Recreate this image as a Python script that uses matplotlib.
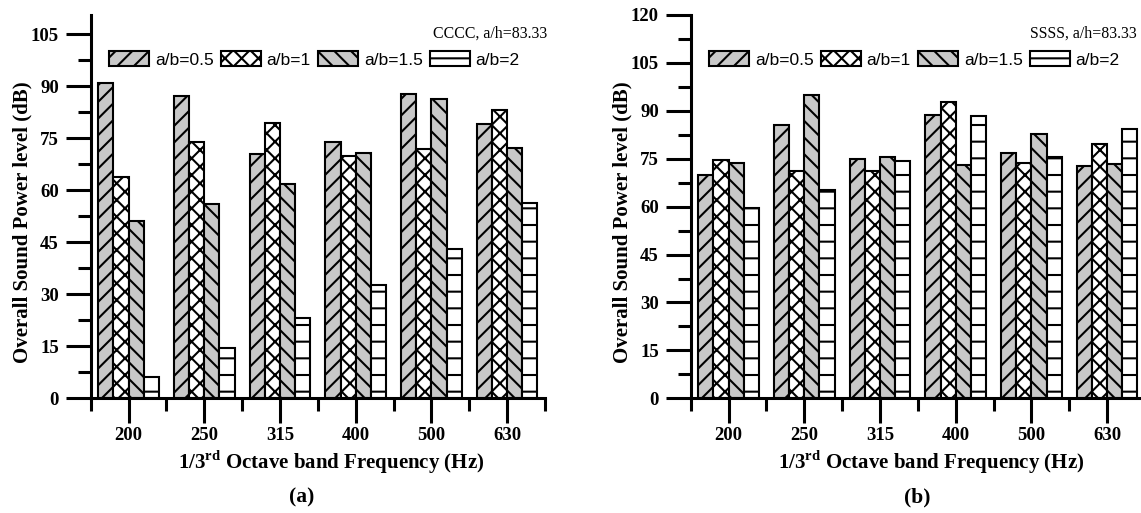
import numpy as np
import matplotlib
matplotlib.use("Agg")
import matplotlib.pyplot as plt
from matplotlib.ticker import MultipleLocator, FixedLocator

plt.rcParams["font.family"] = ["Liberation Serif", "DejaVu Serif"]
plt.rcParams["mathtext.fontset"] = "custom"
plt.rcParams["mathtext.bf"] = "Liberation Serif:bold"
plt.rcParams["mathtext.rm"] = "Liberation Serif"
plt.rcParams["hatch.linewidth"] = 1.5

# 1/3 octave band centre frequencies (Hz)
freqs = ["200", "250", "315", "400", "500", "630"]
series_labels = ["a/b=0.5", "a/b=1", "a/b=1.5", "a/b=2"]

# Overall sound power level (dB), CCCC edges, a/h = 83.33
cccc_ab05 = [91.0, 87.1, 70.5, 74.0, 87.6, 79.2]
cccc_ab1 = [63.8, 73.8, 79.4, 69.8, 71.9, 83.0]
cccc_ab15 = [51.0, 56.0, 61.7, 70.7, 86.2, 72.2]
cccc_ab2 = [6.1, 14.5, 23.2, 32.8, 42.9, 56.3]

# Overall sound power level (dB), SSSS edges, a/h = 83.33
ssss_ab05 = [69.8, 85.5, 74.8, 88.8, 76.9, 72.7]
ssss_ab1 = [74.7, 71.2, 71.2, 92.8, 73.7, 79.5]
ssss_ab15 = [73.8, 95.1, 75.4, 72.9, 82.9, 73.3]
ssss_ab2 = [59.6, 65.3, 74.2, 88.3, 75.5, 84.4]

GRAY = "#c8c8c8"
styles = [
    dict(facecolor=GRAY, hatch="//"),
    dict(facecolor="white", hatch="xx"),
    dict(facecolor=GRAY, hatch="\\\\"),
    dict(facecolor="white", hatch="-"),
]

W, H = 1141, 513
fig = plt.figure(figsize=(W / 100, H / 100), dpi=100)


def px_axes(x0, x1, y_top, y_bot):
    return fig.add_axes([x0 / W, 1 - y_bot / H, (x1 - x0) / W, (y_bot - y_top) / H])


def draw_panel(ax, data, ymax, ymajor_max, note, tag, note_x, tag_x):
    x = np.arange(1, len(freqs) + 1)
    offsets = [-0.3, -0.1, 0.1, 0.3]
    handles = []
    for vals, off, st, lab in zip(data, offsets, styles, series_labels):
        b = ax.bar(x + off, vals, width=0.2, edgecolor="black", linewidth=1.5,
                   label=lab, zorder=2, **st)
        handles.append(b)

    ax.set_xlim(0.5, 6.5)
    ax.set_ylim(0, ymax)
    ax.set_xticks(x)
    ax.set_xticklabels(freqs)
    ax.xaxis.set_minor_locator(FixedLocator(np.arange(0.5, 6.6, 1.0)))
    ax.set_yticks(np.arange(0, ymajor_max + 1, 15))
    ax.yaxis.set_minor_locator(MultipleLocator(7.5))

    for s in ("top", "right"):
        ax.spines[s].set_visible(False)
    for s in ("left", "bottom"):
        ax.spines[s].set_linewidth(2.2)

    ax.tick_params(which="major", direction="out", length=18, width=2.2,
                   labelsize=13.5)
    ax.tick_params(axis="x", which="major", pad=3)
    ax.tick_params(axis="y", which="major", pad=5)
    ax.tick_params(which="minor", direction="out", length=9.5, width=2.2)
    for lbl in ax.get_xticklabels() + ax.get_yticklabels():
        lbl.set_fontweight("bold")

    ax.set_xlabel(r"1/3$^{\mathbf{rd}}$ Octave band Frequency (Hz)",
                  fontsize=15, fontweight="bold")
    ax.xaxis.set_label_coords(0.529, -0.13)
    ax.set_ylabel("Overall Sound Power level (dB)", fontsize=15,
                  fontweight="bold")
    ax.yaxis.set_label_coords(-0.129, 0.46)

    ax.text(note_x, 0.952, note, transform=ax.transAxes, ha="right", va="center",
            fontsize=11.4)
    ax.text(tag_x, -0.26, tag, transform=ax.transAxes, ha="center", va="center",
            fontsize=15.5, fontweight="bold")

    leg = ax.legend(handles=handles, loc="upper left", bbox_to_anchor=(0.04, 0.905),
                    ncol=4, frameon=False, borderpad=0, borderaxespad=0,
                    handlelength=2.3, handleheight=0.92, handletextpad=0.35,
                    columnspacing=0.4,
                    prop={"family": "Liberation Sans", "size": 12.5})
    return leg


ax_a = px_axes(90.7, 545.0, 15, 398.3)
draw_panel(ax_a, [cccc_ab05, cccc_ab1, cccc_ab15, cccc_ab2], 110.5, 105,
           "CCCC, a/h=83.33", "(a)", 1.004, 0.465)

ax_b = px_axes(690.7, 1145.0, 15, 398.3)
draw_panel(ax_b, [ssss_ab05, ssss_ab1, ssss_ab15, ssss_ab2], 120, 120,
           "SSSS, a/h=83.33", "(b)", 0.982, 0.498)

fig.savefig("out.png", dpi=100)
